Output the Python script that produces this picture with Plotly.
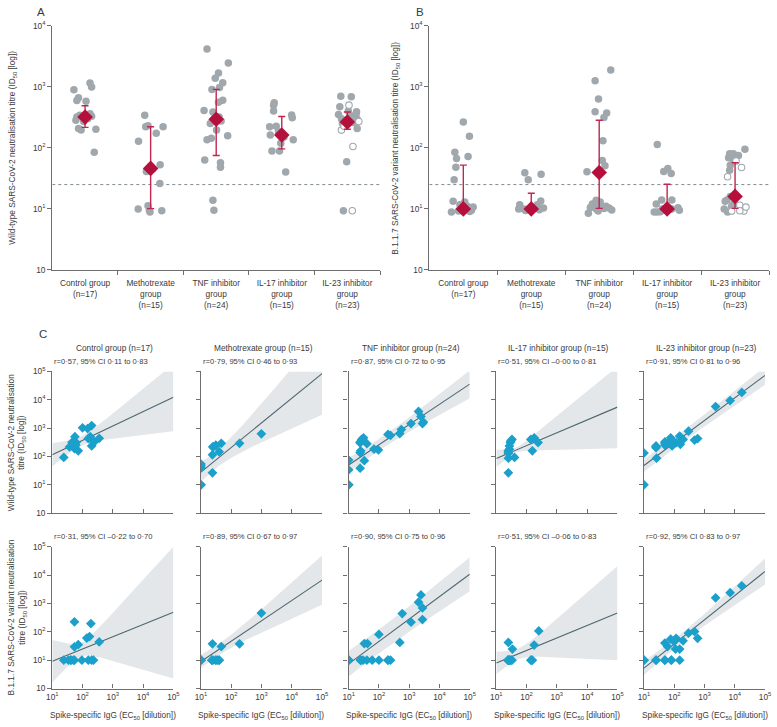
import numpy as np
import plotly.graph_objects as go

# ---------------- DATA ----------------
groups_ab = ["Control group<br>(n=17)", "Methotrexate<br>group<br>(n=15)", "TNF inhibitor<br>group<br>(n=24)",
             "IL-17 inhibitor<br>group<br>(n=15)", "IL-23 inhibitor<br>group<br>(n=23)"]

# Panel A: wild-type neutralisation titres (filled dots) and jitter offsets (category units)
a_ctrl_vals = [895, 1150, 990, 660, 595, 580, 320, 282, 363, 208, 195, 202, 85, 340, 300, 270, 330]
a_ctrl_off = [-0.17, 0.075, 0.10, -0.10, -0.125, 0.015, -0.125, -0.14, 0.075, -0.10, -0.06, 0.165, 0.14, -0.08, 0.04, -0.02, 0.10]
a_mtx_vals = [340, 221, 229, 221, 173, 128, 53, 41, 26, 10, 11.3, 8.9, 9.3, 45, 9.5]
a_mtx_off = [-0.09, -0.075, -0.04, 0.19, 0.085, -0.185, 0.145, -0.065, 0.14, -0.19, -0.04, -0.01, 0.17, 0.03, -0.02]
a_tnf_vals = [4150, 2440, 1680, 1380, 1160, 975, 906, 560, 410, 385, 276, 195, 158, 143, 135, 57, 48, 63, 13.8, 9.5, 300, 320, 250, 600]
a_tnf_off = [-0.14, 0.185, 0.035, -0.015, 0.10, 0.05, -0.065, 0.035, -0.185, -0.05, 0.075, 0.005, 0.175, -0.075, -0.14, 0.065, 0.065, -0.175, -0.05, -0.035, -0.03, 0.045, -0.09, 0.10]
a_il17_vals = [546, 500, 400, 344, 312, 221, 226, 162, 183, 119, 136, 89, 89, 40, 150]
a_il17_off = [-0.115, -0.125, -0.125, 0.15, 0.16, -0.185, -0.085, -0.175, -0.05, -0.015, 0.175, -0.15, -0.035, 0.06, 0.035]
a_il23_vals = [698, 683, 470, 388, 363, 353, 332, 294, 253, 208, 59, 9.3, 300, 230, 400, 260, 300]
a_il23_off = [-0.10, 0.06, -0.115, 0.14, 0.135, -0.135, 0.065, 0.15, -0.075, 0.15, -0.01, -0.06, 0.045, -0.045, 0.015, 0.09, -0.09]
a_il23_open_vals = [500, 270, 195, 105, 9.3, 225]
a_il23_open_off = [0.025, 0.175, -0.09, 0.085, 0.075, -0.05]
a_mean = [320, 46, 294, 162, 265]
a_hi = [490, 221, 905, 325, 385]
a_lo = [216, 10.1, 75, 96, 202]

# Panel B: B.1.1.7 neutralisation titres
b_ctrl_vals = [265, 155, 85, 72, 67, 48, 30, 13.3, 11.7, 13, 8.9, 9.2, 9.5, 10.7, 9.1, 10, 11]
b_ctrl_off = [0, 0.09, -0.125, 0.07, -0.10, -0.11, -0.135, -0.15, -0.05, 0.02, -0.175, -0.07, 0.12, 0.145, 0.095, -0.045, 0.06]
b_mtx_vals = [39, 37, 30, 11.7, 10, 13.5, 10.3, 11.7, 9.4, 10, 9.7, 10.2, 10, 10.5, 9.8]
b_mtx_off = [-0.095, 0.145, -0.045, -0.17, -0.185, 0.14, 0.18, 0.09, -0.085, -0.11, 0.12, 0.06, -0.04, 0.035, -0.07]
b_tnf_vals = [1880, 1250, 630, 390, 371, 313, 130, 62, 51, 40.5, 13.8, 12.5, 10.1, 9.6, 8.5, 9.2, 10.7, 11, 12, 11, 13, 10, 10.3, 10.5]
b_tnf_off = [0.17, -0.06, -0.01, -0.06, 0.11, 0.07, 0.055, 0.045, 0.085, -0.18, -0.045, -0.025, 0.07, 0.185, -0.16, -0.015, 0.035, -0.07, -0.10, 0.10, 0.015, -0.045, 0.145, -0.13]
b_il17_vals = [113, 41, 46, 38, 12, 14, 14, 8.9, 8.9, 10.4, 9.5, 10, 10, 9.5, 9]
b_il17_off = [-0.145, -0.05, 0.01, 0.06, -0.16, -0.08, 0.07, -0.19, -0.145, 0.16, 0.18, -0.07, 0.07, -0.04, -0.10]
b_il23_vals = [95, 80, 80, 69, 66, 52, 43, 14, 13.3, 10, 8.9, 16, 12, 75, 11]
b_il23_off = [0.145, -0.08, -0.025, -0.095, -0.035, -0.07, -0.08, -0.12, -0.145, -0.16, -0.11, -0.07, -0.025, 0.05, -0.05]
b_il23_open_vals = [47.5, 33.6, 61, 9.2, 11.5, 9.2, 10.7, 9.3]
b_il23_open_off = [0.095, -0.11, 0.015, -0.05, 0.07, 0.13, 0.16, 0.07]
b_mean = [10, 10, 39.5, 10, 16]
b_hi = [52, 18, 283, 25.3, 57]
b_lo = [10, 10, 10.2, 10, 10.2]
threshold = 25

# Panel C
c_titles = ["Control group (n=17)", "Methotrexate group (n=15)", "TNF inhibitor group (n=24)",
            "IL-17 inhibitor group (n=15)", "IL-23 inhibitor group (n=23)"]
c_r_top = ["r=0·57, 95% CI 0·11 to 0·83", "r=0·79, 95% CI 0·46 to 0·93", "r=0·87, 95% CI 0·72 to 0·95",
           "r=0·51, 95% CI –0·00 to 0·81", "r=0·91, 95% CI 0·81 to 0·96"]
c_r_bot = ["r=0·31, 95% CI –0·22 to 0·70", "r=0·89, 95% CI 0·67 to 0·97", "r=0·90, 95% CI 0·75 to 0·96",
           "r=0·51, 95% CI –0·06 to 0·83", "r=0·92, 95% CI 0·83 to 0·97"]

# IgG (x) and wild-type titre (y)
ct_ctrl_x = [24, 37, 47, 56, 54, 61, 72, 100, 147, 200, 155, 180, 200, 240, 355, 45, 60]
ct_ctrl_y = [93, 218, 292, 500, 190, 310, 158, 1020, 966, 1230, 427, 500, 236, 324, 436, 315, 250]
ct_mtx_x = [10, 10, 10, 24, 24, 25, 31, 40, 47, 188, 990, 10, 25, 10, 31]
ct_mtx_y = [54, 40, 10, 26.5, 115, 224, 249, 146, 292, 292, 630, 47, 210, 10, 240]
ct_tnf_x = [10, 10, 10, 24, 27, 31, 24, 25, 40, 33, 24, 69, 96, 200, 242, 490, 550, 1150, 2040, 2450, 2750, 2950, 10, 24]
ct_tnf_y = [75, 34, 10, 324, 398, 457, 138, 158, 283, 71, 38.5, 183, 170, 600, 553, 645, 890, 1445, 3890, 2570, 1445, 1620, 10, 300]
ct_il17_x = [25, 25, 25, 25, 40, 27, 29, 33, 138, 178, 240, 155, 25, 27, 30]
ct_il17_y = [26.5, 87, 145, 158, 93, 236, 310, 400, 400, 457, 310, 158, 130, 180, 350]
ct_il23_x = [10, 10, 25, 25, 26, 49, 49, 76, 80, 85, 115, 151, 159, 195, 295, 468, 590, 2320, 7000, 17000, 49, 85, 25]
ct_il23_y = [132, 10, 236, 205, 87, 324, 250, 457, 380, 236, 310, 525, 270, 400, 776, 380, 427, 5750, 9330, 18200, 290, 330, 220]

# IgG (x) and B.1.1.7 titre (y)
cb_ctrl_x = [24, 34, 42, 50, 54, 95, 155, 200, 230, 54, 188, 54, 72, 138, 170, 355, 40]
cb_ctrl_y = [10, 10, 10, 10, 10, 10, 10, 10, 10, 224, 195, 29.5, 35, 60, 68, 44, 10]
cb_mtx_x = [10, 24, 23, 31, 40, 47, 188, 990, 10, 23, 31, 25, 35, 10, 40]
cb_mtx_y = [10, 37.5, 10, 10, 10, 30, 37.5, 457, 10, 10, 10, 10, 10, 10, 10]
cb_tnf_x = [10, 25, 33, 42, 100, 200, 242, 490, 590, 1150, 2040, 2450, 2750, 2750, 10, 10, 10, 25, 25, 30, 40, 60, 100, 200]
cb_tnf_y = [10, 10, 38.5, 38.5, 81, 10, 10, 42, 437, 218, 1100, 2000, 690, 270, 10, 10, 10, 10, 10, 10, 10, 10, 10, 10]
cb_il17_x = [25, 34, 24, 27, 31, 138, 155, 178, 253, 25, 30, 27, 145, 25, 33]
cb_il17_y = [42, 24.5, 10, 10, 10, 10, 10, 34, 107, 10, 10, 10, 10, 10, 10]
cb_il23_x = [10, 25, 49, 80, 151, 49, 76, 115, 110, 151, 195, 295, 468, 590, 2320, 7000, 17000, 10, 25, 49, 80, 60, 100]
cb_il23_y = [10, 10, 10, 10, 10, 40, 55, 59, 24.5, 24.5, 48, 89, 102, 59, 1580, 2400, 4170, 10, 10, 10, 10, 30, 45]

# regression line: log10(titre) at IgG=10 and at IgG=1e5
fit_top = [(2.06, 4.086), (1.447, 4.92), (1.70, 4.55), (1.93, 3.74), (1.68, 4.86)]
fit_bot = [(0.96, 2.685), (0.95, 3.82), (0.87, 4.03), (0.90, 2.66), (0.72, 4.13)]
# confidence band half-width (decades) at IgG=10 and at IgG=1e5
band_top = [(0.41, 1.2), (0.35, 1.45), (0.25, 0.50), (0.30, 1.45), (0.22, 0.33)]
band_bot = [(0.75, 2.33), (0.24, 0.87), (0.45, 0.60), (0.40, 1.66), (0.24, 0.46)]

# ---------------- STYLE ----------------
W, H = 777, 727
FONT = "Liberation Sans Narrow, Arial Narrow, Liberation Sans, Arial, sans-serif"
TXT = "#3a3a3a"
AX = "#6e6e6e"
GRAY = "#a0a8ad"
RED = "#b5103c"
BLUE = "#1aa0cb"
LINE = "#4d6670"
BAND = "#e4e7ea"
FS = 8.3
FS_R = 7.6


def xd(a, b):
    return [a / W, b / W]


def yd(top, bottom):
    return [1 - bottom / H, 1 - top / H]


def px(x):
    return x / W


def py(y):
    return 1 - y / H


fig = go.Figure()
layout = dict(width=W, height=H, margin=dict(l=0, r=0, t=0, b=0), plot_bgcolor="white",
              paper_bgcolor="white", showlegend=False, font=dict(family=FONT, size=FS, color=TXT))

sup = lambda n: "10<sup>%d</sup>" % n

# ---- Panels A & B ----
for p, (vals_list, off_list, open_v, open_o, mean, hi, lo, xdom, xa, ya) in enumerate([
    ([a_ctrl_vals, a_mtx_vals, a_tnf_vals, a_il17_vals, a_il23_vals],
     [a_ctrl_off, a_mtx_off, a_tnf_off, a_il17_off, a_il23_off],
     a_il23_open_vals, a_il23_open_off, a_mean, a_hi, a_lo, xd(47, 380), "x", "y"),
    ([b_ctrl_vals, b_mtx_vals, b_tnf_vals, b_il17_vals, b_il23_vals],
     [b_ctrl_off, b_mtx_off, b_tnf_off, b_il17_off, b_il23_off],
     b_il23_open_vals, b_il23_open_off, b_mean, b_hi, b_lo, xd(430, 775), "x2", "y2")]):
    fig.add_trace(go.Scatter(x=[-0.5, 4.5], y=[threshold, threshold], mode="lines",
                             line=dict(color="#7f8a8e", width=1, dash="dot"), xaxis=xa, yaxis=ya,
                             hoverinfo="skip"))
    for i, (v, o) in enumerate(zip(vals_list, off_list)):
        fig.add_trace(go.Scatter(x=[i + d for d in o], y=v, mode="markers",
                                 marker=dict(color=GRAY, size=7.5), xaxis=xa, yaxis=ya))
    fig.add_trace(go.Scatter(x=[4 + d for d in open_o], y=open_v, mode="markers",
                             marker=dict(color="white", size=6.5, line=dict(color=GRAY, width=1.1)),
                             xaxis=xa, yaxis=ya))
    fig.add_trace(go.Scatter(
        x=[0, 1, 2, 3, 4], y=mean, mode="markers",
        marker=dict(symbol="diamond", color=RED, size=12),
        error_y=dict(type="data", symmetric=False,
                     array=[h - m for h, m in zip(hi, mean)],
                     arrayminus=[m - l for m, l in zip(mean, lo)],
                     color="#c0264f", thickness=1.4, width=3.5),
        xaxis=xa, yaxis=ya))
    n = "" if p == 0 else "2"
    layout["xaxis" + n] = dict(domain=xdom, range=[-0.5, 4.5], anchor=ya, showgrid=False, zeroline=False,
                               showline=True, linecolor=AX, linewidth=1.3, ticks="",
                               tickvals=[0, 1, 2, 3, 4], ticktext=groups_ab, ticklabelstandoff=5,
                               tickfont=dict(size=FS, color=TXT),
                               minor=dict(tickvals=[0.5, 1.5, 2.5, 3.5, 4.5], ticks="outside", ticklen=4,
                                          tickcolor=AX, tickwidth=1.2, showgrid=False))
    layout["yaxis" + n] = dict(domain=yd(20, 268), type="log", range=[0, 4], anchor=xa, showgrid=False,
                               zeroline=False, showline=True, linecolor=AX, linewidth=1.3, ticks="outside",
                               ticklen=4, tickcolor=AX, tickwidth=1.2,
                               tickvals=[1, 10, 100, 1000, 10000],
                               ticktext=["10", sup(1), sup(2), sup(3), sup(4)],
                               tickfont=dict(size=FS, color=TXT))

# ---- Panel C ----
cols = [(47, 170), (198, 321), (348, 471), (498, 621), (648, 771)]
top_x = [ct_ctrl_x, ct_mtx_x, ct_tnf_x, ct_il17_x, ct_il23_x]
top_y = [ct_ctrl_y, ct_mtx_y, ct_tnf_y, ct_il17_y, ct_il23_y]
bot_x = [cb_ctrl_x, cb_mtx_x, cb_tnf_x, cb_il17_x, cb_il23_x]
bot_y = [cb_ctrl_y, cb_mtx_y, cb_tnf_y, cb_il17_y, cb_il23_y]
lx = np.linspace(1, 5, 81)

for row, (xs, ys, fits, bands, ytop, ybot) in enumerate([
        (top_x, top_y, fit_top, band_top, 371, 515),
        (bot_x, bot_y, fit_bot, band_bot, 549, 693)]):
    for j in range(5):
        k = 3 + j + 5 * row
        xa, ya = "x%d" % k, "y%d" % k
        a1, a5 = fits[j]
        h1, h5 = bands[j]
        xc = float(np.mean(np.log10(xs[j])))
        B = (h5 ** 2 - h1 ** 2) / ((5 - xc) ** 2 - (1 - xc) ** 2)
        A = max(h1 ** 2 - B * (1 - xc) ** 2, 0.008)
        line = a1 + (a5 - a1) * (lx - 1) / 4
        hw = np.sqrt(A + B * (lx - xc) ** 2)
        up = np.clip(line + hw, -1, 5.0)
        dn = np.clip(line - hw, -1, 5.0)
        fig.add_trace(go.Scatter(x=np.concatenate([10 ** lx, 10 ** lx[::-1]]),
                                 y=np.concatenate([10 ** up, 10 ** dn[::-1]]),
                                 fill="toself", fillcolor=BAND, line=dict(width=0), mode="lines",
                                 xaxis=xa, yaxis=ya, hoverinfo="skip"))
        fig.add_trace(go.Scatter(x=10 ** lx, y=10 ** line, mode="lines", line=dict(color=LINE, width=1.1),
                                 xaxis=xa, yaxis=ya, hoverinfo="skip"))
        fig.add_trace(go.Scatter(x=xs[j], y=ys[j], mode="markers",
                                 marker=dict(symbol="diamond", color=BLUE, size=7.5), xaxis=xa, yaxis=ya))
        layout["xaxis%d" % k] = dict(domain=xd(*cols[j]), type="log", range=[1, 5], anchor=ya,
                                     showgrid=False, zeroline=False, showline=True, linecolor=AX,
                                     linewidth=1.3, ticks="inside", ticklen=4, tickcolor=AX, tickwidth=1.2,
                                     tickvals=[10, 100, 1e3, 1e4, 1e5],
                                     ticktext=[sup(1), sup(2), sup(3), sup(4), sup(5)],
                                     showticklabels=(row == 1), tickfont=dict(size=FS, color=TXT))
        layout["yaxis%d" % k] = dict(domain=yd(ytop, ybot), type="log", range=[0, 5], anchor=xa,
                                     showgrid=False, zeroline=False, showline=True, linecolor=AX,
                                     linewidth=1.3, ticks="outside", ticklen=4, tickcolor=AX, tickwidth=1.2,
                                     tickvals=[1, 10, 100, 1e3, 1e4, 1e5],
                                     ticktext=["10", sup(1), sup(2), sup(3), sup(4), sup(5)],
                                     showticklabels=(j == 0), tickfont=dict(size=FS, color=TXT))

# ---- annotations ----
ann = []


def add_text(x, y, text, size=FS, xanchor="center", yanchor="middle", angle=0):
    ann.append(dict(x=px(x), y=py(y), xref="paper", yref="paper", text=text,
                    showarrow=False, xanchor=xanchor, yanchor=yanchor, textangle=angle,
                    font=dict(size=size, color=TXT, family=FONT)))


add_text(36, 6, "A", size=11.5)
add_text(421, 6, "B", size=11.5)
add_text(38, 333, "C", size=11.5)
add_text(7, 144, "Wild-type SARS-CoV-2 neutralisation titre (ID<sub>50</sub> [log])", angle=-90)
add_text(396, 144, "B.1.1.7 SARS-CoV-2 variant neutralisation titre (ID<sub>50</sub> [log])", angle=-90)
add_text(11, 443, "Wild-type SARS-CoV-2 neutralisation<br>titre (ID<sub>50</sub> [log])", angle=-90)
add_text(11, 621, "B.1.1.7 SARS-CoV-2 variant neutralisation<br>titre (ID<sub>50</sub> [log])", angle=-90)
for j, (a, b) in enumerate(cols):
    add_text((a + b) / 2 + 2, 347, c_titles[j])
    add_text(a, 361, c_r_top[j], size=FS_R, xanchor="left")
    add_text(a, 539, c_r_bot[j], size=FS_R, xanchor="left")
    add_text((a + b) / 2, 720, "Spike-specific IgG (EC<sub>50</sub> [dilution])")
layout["annotations"] = ann

fig.update_layout(**layout)
fig.write_html("out.html", config={"displayModeBar": False},
               post_script="document.body.style.margin='0px';document.body.style.padding='0px';"
                           "document.body.style.overflow='hidden';")
